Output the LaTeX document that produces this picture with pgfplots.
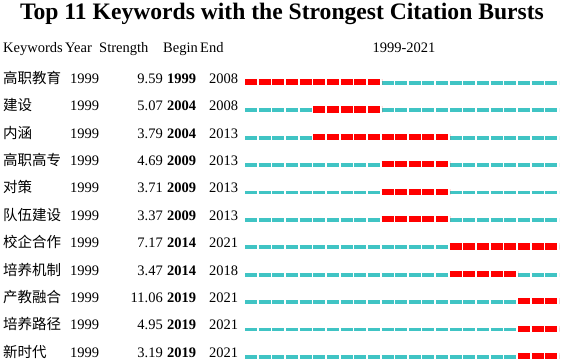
\documentclass[border=0pt]{standalone}
\usepackage{fontspec}
\setmainfont{Liberation Serif}
\newfontfamily\cjk{Noto Sans CJK SC}
\usepackage{pgfplots}
\pgfplotsset{compat=1.18}
\definecolor{burst}{RGB}{255,0,0}
\definecolor{base}{RGB}{64,196,196}
\tikzset{
  seg/.style={line cap=butt, dash pattern=on 12bp off 1.652bp},
}
\begin{document}
\begin{tikzpicture}
\useasboundingbox (0,0) rectangle (562bp,361bp);
\begin{axis}[
  at={(0,0)}, anchor=south west,
  scale only axis, width=562bp, height=361bp,
  xmin=1981.054, xmax=2022.220,
  ymin=-1.993, ymax=11.182, y dir=reverse,
  axis lines=none, clip=false,
  every axis plot/.append style={seg},
]
% baseline (no burst) strips, 1999-2021
\pgfplotsinvokeforeach{1,...,11}{
  \addplot[base, line width=3.8bp, yshift=-0.8bp] coordinates {(1999,#1) (2022,#1)};
}
% burst periods: begin year to end year (right edge = end+1)
\addplot[burst, line width=6.2bp] coordinates {(1999,1) (2009,1)};
\addplot[burst, line width=6.2bp] coordinates {(2004,2) (2009,2)};
\addplot[burst, line width=6.2bp] coordinates {(2004,3) (2014,3)};
\addplot[burst, line width=6.2bp] coordinates {(2009,4) (2014,4)};
\addplot[burst, line width=6.2bp] coordinates {(2009,5) (2014,5)};
\addplot[burst, line width=6.2bp] coordinates {(2009,6) (2014,6)};
\addplot[burst, line width=6.2bp] coordinates {(2014,7) (2022,7)};
\addplot[burst, line width=6.2bp] coordinates {(2014,8) (2019,8)};
\addplot[burst, line width=6.2bp] coordinates {(2019,9) (2022,9)};
\addplot[burst, line width=6.2bp] coordinates {(2019,10) (2022,10)};
\addplot[burst, line width=6.2bp] coordinates {(2019,11) (2022,11)};
\end{axis}
% title
\node[anchor=base, font=\fontsize{23.6bp}{28bp}\selectfont\bfseries, inner sep=0] at (282bp,341.5bp)
  {Top 11 Keywords with the Strongest Citation Bursts};
% header
\begin{scope}[every node/.style={anchor=base west, inner sep=0, font=\fontsize{14.5bp}{17bp}\selectfont}]
\node at (3bp,308bp) {Keywords};
\node at (65bp,308bp) {Year};
\node at (99bp,308bp) {Strength};
\node at (163bp,308bp) {Begin};
\node at (200bp,308bp) {End};
\node[anchor=base] at (404bp,308bp) {1999-2021};
\end{scope}
% rows
\foreach \i/\kw/\st/\b/\e in {
  1/高职教育/9.59/1999/2008,
  2/建设/5.07/2004/2008,
  3/内涵/3.79/2004/2013,
  4/高职高专/4.69/2009/2013,
  5/对策/3.71/2009/2013,
  6/队伍建设/3.37/2009/2013,
  7/校企合作/7.17/2014/2021,
  8/培养机制/3.47/2014/2018,
  9/产教融合/11.06/2019/2021,
  10/培养路径/4.95/2019/2021,
  11/新时代/3.19/2019/2021}{
  \pgfmathsetmacro\yy{277.7-27.4*(\i-1)}
  \begin{scope}[every node/.style={inner sep=0, font=\fontsize{14.5bp}{17bp}\selectfont}]
  \node[anchor=base west] at (3bp,\yy bp) {\cjk\fontsize{14.5bp}{17bp}\selectfont \kw};
  \node[anchor=base west] at (70bp,\yy bp) {1999};
  \node[anchor=base east] at (163bp,\yy bp) {\st};
  \node[anchor=base west] at (167bp,\yy bp) {\bfseries \b};
  \node[anchor=base west] at (209bp,\yy bp) {\e};
  \end{scope}
}
\end{tikzpicture}
\end{document}
